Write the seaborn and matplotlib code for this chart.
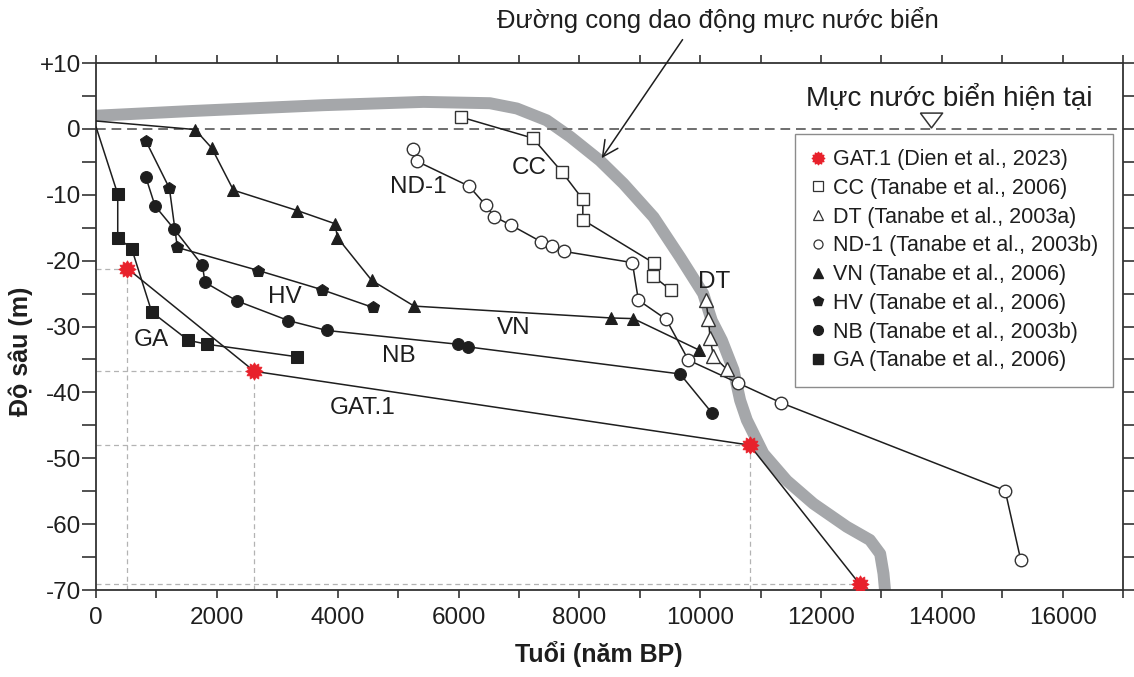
import matplotlib
matplotlib.use("Agg")
import matplotlib.pyplot as plt
import seaborn as sns
from matplotlib.lines import Line2D
from matplotlib.path import Path
from matplotlib.ticker import MultipleLocator, FuncFormatter

# Đường cong dao động mực nước biển (dải xám)
sea_age = [0, 1550, 3760, 5420, 6520, 6965, 7460, 7850, 8340, 8730, 9230, 9670,
           10050, 10193, 10360, 10552, 10662, 10773, 11048, 11435, 11876, 12428,
           12810, 12980, 13035, 13070]
sea_depth = [2.0, 2.7, 3.6, 4.1, 3.9, 3.1, 1.3, -1.2, -4.8, -8.3, -13.4, -19.5,
             -25.0, -29.1, -32.1, -36.6, -41.2, -44.2, -49.3, -53.4, -56.9, -60.4,
             -62.4, -64.5, -67.5, -71.0]

# Các lỗ khoan
gat_age = [520, 2620, 10820, 12640]
gat_depth = [-21.2, -36.8, -48.0, -69.1]

cc_age = [6038, 7230, 7710, 8058, 8058, 9239, 9217, 9519]
cc_depth = [1.8, -1.4, -6.5, -10.7, -13.8, -20.4, -22.3, -24.5]

dt_age = [10094, 10137, 10165, 10220, 10442]
dt_depth = [-26.0, -28.8, -31.8, -34.5, -36.5]

nd_age = [5254, 5309, 6175, 6452, 6589, 6866, 7362, 7555, 7748, 8878, 8978, 9437,
          9806, 10634, 11345, 15049, 15309]
nd_depth = [-3.0, -4.9, -8.7, -11.6, -13.3, -14.6, -17.1, -17.8, -18.6, -20.3, -26.0,
            -28.9, -35.1, -38.6, -41.6, -54.9, -65.5]

# điểm đầu (tuổi 0) không có ký hiệu
vn_age = [0, 1639, 1915, 2274, 3332, 3957, 3995, 4564, 5265, 8521, 8895, 9988]
vn_depth = [1.2, -0.1, -2.9, -9.3, -12.4, -14.4, -16.5, -23.0, -26.9, -28.7, -28.8, -33.6]

hv_age = [823, 1214, 1346, 2687, 3736, 4581]
hv_depth = [-1.8, -9.0, -18.0, -21.5, -24.4, -27.1]

nb_age = [823, 977, 1292, 1760, 1804, 2329, 3184, 3820, 5998, 6164, 9668, 10194]
nb_depth = [-7.3, -11.7, -15.2, -20.7, -23.3, -26.1, -29.1, -30.6, -32.7, -33.1, -37.2, -43.1]

ga_age = [0, 359, 359, 591, 922, 1528, 1843, 3332]
ga_depth = [0.3, -9.9, -16.5, -18.2, -27.8, -32.1, -32.7, -34.6]

present_age = [13820]
present_depth = [1.3]

legend_labels = ['GAT.1 (Dien et al., 2023)', 'CC (Tanabe et al., 2006)',
                 'DT (Tanabe et al., 2003a)', 'ND-1 (Tanabe et al., 2003b)',
                 'VN (Tanabe et al., 2006)', 'HV (Tanabe et al., 2006)',
                 'NB (Tanabe et al., 2003b)', 'GA (Tanabe et al., 2006)']

sns.set_theme(style='ticks')
plt.rcParams['font.family'] = ['Liberation Sans', 'DejaVu Sans']

RED = '#e8212b'
GRAY = '#a5a7aa'
INK = '#1e1e1e'
star = Path.unit_regular_star(12, 0.72)

fig = plt.figure(figsize=(11.34, 6.77), dpi=100)
ax = fig.add_axes([0.0847, 0.1285, 0.9056, 0.7784])

# dải mực nước biển
sns.lineplot(x=sea_age, y=sea_depth, sort=False, estimator=None, ax=ax,
             color=GRAY, lw=8.6, solid_capstyle='butt', solid_joinstyle='round', zorder=1)

# mực nước biển hiện tại
ax.axhline(0, color='#6e6e6e', lw=1.4, ls=(0, (5, 3)), zorder=2)

# đường gióng của GAT.1
ax.hlines(gat_depth, 0, gat_age, colors='#b3b3b3', lw=0.9, linestyles=(0, (4, 3)), zorder=2)
ax.vlines(gat_age, -70, gat_depth, colors='#b3b3b3', lw=0.9, linestyles=(0, (4, 3)), zorder=2)

series = [
    (ga_age, ga_depth, dict(marker='s', ms=8, mfc=INK, mec=INK, markevery=slice(1, None))),
    (nb_age, nb_depth, dict(marker='o', ms=8.5, mfc=INK, mec=INK)),
    (hv_age, hv_depth, dict(marker='p', ms=9, mfc=INK, mec=INK)),
    (vn_age, vn_depth, dict(marker='^', ms=9, mfc=INK, mec=INK, markevery=slice(1, None))),
    (nd_age, nd_depth, dict(marker='o', ms=9, mfc='white', mec='#333333', mew=1.0)),
    (dt_age, dt_depth, dict(marker='^', ms=9.5, mfc='white', mec='#333333', mew=1.0)),
    (cc_age, cc_depth, dict(marker='s', ms=8.5, mfc='white', mec='#333333', mew=1.0)),
    (gat_age, gat_depth, dict(marker=star, ms=12.5, mfc=RED, mec=RED, mew=0.5)),
]
for xs, ys, kw in series:
    sns.lineplot(x=xs, y=ys, sort=False, estimator=None, ax=ax, color=INK, lw=1.1,
                 zorder=4, **kw)

# tên lỗ khoan
names = {'ND-1': (5336, -8.8), 'CC': (7174, -6.0), 'DT': (10237, -23.2),
         'HV': (3129, -25.5), 'VN': (6909, -30.3), 'NB': (5005, -34.4),
         'GA': (922, -32.1), 'GAT.1': (4420, -42.4)}
for name, (px, py) in names.items():
    ax.text(px, py, name, fontsize=17.5, color=INK, ha='center', va='center', zorder=5)

# chú thích
ax.annotate('', xy=(8344, -4.8), xytext=(9735, 13.9), annotation_clip=False,
            arrowprops=dict(arrowstyle='->', color=INK, lw=1.1, mutation_scale=28))
ax.text(10298, 16.5, 'Đường cong dao động mực nước biển', fontsize=18.5, color=INK,
        ha='center', va='center', clip_on=False)
ax.text(14123, 4.8, 'Mực nước biển hiện tại', fontsize=20, color=INK,
        ha='center', va='center')
tri = [(-1.5, 1), (1.5, 1), (0, -1), (-1.5, 1)]
ax.plot(present_age, present_depth, ls='none', marker=tri, ms=16, mfc='white',
        mec='#333333', mew=1.1, zorder=5)

# trục
ax.set_xlim(0, 17000)
ax.set_ylim(-70, 10)
ax.xaxis.set_major_locator(MultipleLocator(2000))
ax.xaxis.set_minor_locator(MultipleLocator(1000))
ax.yaxis.set_major_locator(MultipleLocator(10))
ax.yaxis.set_minor_locator(MultipleLocator(5))
ax.yaxis.set_major_formatter(FuncFormatter(lambda v, p: '+%d' % v if v > 0 else '%d' % v))
ax.xaxis.set_major_formatter(FuncFormatter(lambda v, p: '%d' % v))
ax.tick_params(which='both', direction='out', top=True, right=True, colors='#333333',
               labelcolor=INK, width=1.2, labelsize=17.5)
ax.tick_params(axis='y', which='both', length=10, pad=1)
ax.tick_params(axis='x', which='both', length=6, pad=6)
for s in ax.spines.values():
    s.set_linewidth(1.3)
    s.set_color('#333333')

ax.set_xlabel('Tuổi (năm BP)', fontsize=18, fontweight='bold', color=INK)
ax.set_ylabel('Độ sâu (m)', fontsize=18, fontweight='bold', color=INK)
ax.xaxis.set_label_coords(0.49, -0.097)
ax.yaxis.set_label_coords(-0.061, 0.453)

handles = [
    Line2D([], [], ls='none', marker=star, ms=9, mfc=RED, mec=RED),
    Line2D([], [], ls='none', marker='s', ms=6.5, mfc='white', mec='#333333', mew=0.9),
    Line2D([], [], ls='none', marker='^', ms=6.5, mfc='white', mec='#333333', mew=0.9),
    Line2D([], [], ls='none', marker='o', ms=6.5, mfc='white', mec='#333333', mew=0.9),
    Line2D([], [], ls='none', marker='^', ms=7, mfc=INK, mec=INK),
    Line2D([], [], ls='none', marker='p', ms=7, mfc=INK, mec=INK),
    Line2D([], [], ls='none', marker='o', ms=7, mfc=INK, mec=INK),
    Line2D([], [], ls='none', marker='s', ms=6.5, mfc=INK, mec=INK),
]
leg = ax.legend(handles, legend_labels, loc='upper left', bbox_to_anchor=(0.681, 0.865),
                borderaxespad=0, frameon=True, fancybox=False, edgecolor='#8c8c8c',
                framealpha=1, fontsize=15.5, handlelength=0.7, handletextpad=0.35,
                labelspacing=0.36, borderpad=0.7)
leg.get_frame().set_linewidth(1.0)
leg.set_zorder(6)
for t in leg.get_texts():
    t.set_color(INK)

fig.savefig('out.png', dpi=100)
